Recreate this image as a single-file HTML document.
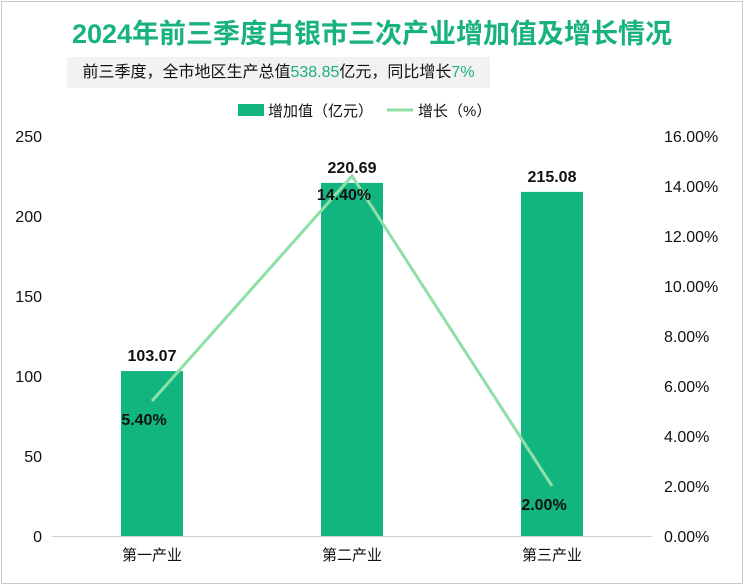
<!DOCTYPE html>
<html><head><meta charset="utf-8"><style>
body{margin:0;background:#fff}
#c{position:relative;width:744px;height:585px;overflow:hidden;font-family:"Liberation Sans","Noto Sans CJK SC",sans-serif;background:#fff}
.frame{position:absolute;left:1px;top:1px;width:740px;height:581px;border:1px solid #c8c8c8}
.title{position:absolute;left:0;width:744px;top:12px;text-align:center;font-size:27px;font-weight:bold;color:#17b27e;letter-spacing:0px}
.sub{position:absolute;left:67px;top:57px;width:423px;height:31px;background:#f2f2f2;font-size:16px;line-height:31px;color:#111;text-align:center}
.sub b{color:#17b27e;font-weight:normal}
</style></head><body>
<div id="c">
<div class="frame"></div>
<div class="title">2024年前三季度白银市三次产业增加值及增长情况</div>
<div class="sub">前三季度，全市地区生产总值<b>538.85</b>亿元，同比增长<b>7%</b></div>
<svg id="s" width="744" height="585" style="position:absolute;left:0;top:0"></svg>
</div>
<script>
const categories=["第一产业","第二产业","第三产业"];
const valueData=[103.07,220.69,215.08];
const growthData=[5.40,14.40,2.00];
const leftTicks=[0,50,100,150,200,250];
const rightTicks=[0,2,4,6,8,10,12,14,16];
const NS="http://www.w3.org/2000/svg";
const svg=document.getElementById('s');
const y0=536,y1=136;
const yL=v=>y0-(v/250)*(y0-y1);
const yR=v=>y0-(v/16)*(y0-y1);
const xC=i=>152+i*200;
function mk(t,a,txt){const e=document.createElementNS(NS,t);for(const k in a)e.setAttribute(k,a[k]);if(txt!==undefined)e.textContent=txt;svg.appendChild(e);return e;}
const F='"Liberation Sans","Noto Sans CJK SC",sans-serif';
// legend
let e=mk('rect',{x:238,y:104,width:26,height:12,fill:'#12b47f'});


e=mk('text',{x:268,y:116,'font-size':15,'font-family':F,fill:'#111'},'增加值（亿元）');


e=mk('line',{x1:387,y1:110,x2:413,y2:110,stroke:'#8fe0a6','stroke-width':3});


e=mk('text',{x:418,y:116,'font-size':15,'font-family':F,fill:'#111'},'增长（%）');


leftTicks.forEach(v=>{
 const t=mk('text',{x:42,y:yL(v)+6,'font-size':16,'font-family':F,fill:'#111','text-anchor':'end'},String(v));
 
 
});
rightTicks.forEach(v=>{
 const t=mk('text',{x:664,y:yR(v)+6,'font-size':16,'font-family':F,fill:'#111'},v.toFixed(2)+'%');
 
 
});
e=mk('line',{x1:52,y1:y0+0.5,x2:652,y2:y0+0.5,stroke:'#d0d0d0'});


categories.forEach((c,i)=>{
 const b=mk('rect',{x:xC(i)-31,y:yL(valueData[i]),width:62,height:y0-yL(valueData[i]),fill:'#12b47f'});
 
 
 const l=mk('text',{x:xC(i),y:yL(valueData[i])-10,'font-size':16,'font-weight':'bold','font-family':F,fill:'#111','text-anchor':'middle'},valueData[i].toFixed(2));
 
 
 const x=mk('text',{x:xC(i),y:y0+24,'font-size':15,'font-family':F,fill:'#111','text-anchor':'middle'},c);
 
 
});
const pts=growthData.map((v,i)=>xC(i)+','+yR(v)).join(' ');
e=mk('polyline',{points:pts,fill:'none',stroke:'#8fe0a6','stroke-width':3});


growthData.forEach((v,i)=>{
 const t=mk('text',{x:xC(i)-8,y:yR(v)+24,'font-size':16,'font-weight':'bold','font-family':F,fill:'#111','text-anchor':'middle'},v.toFixed(2)+'%');
 
 
});
</script>
</body></html>
